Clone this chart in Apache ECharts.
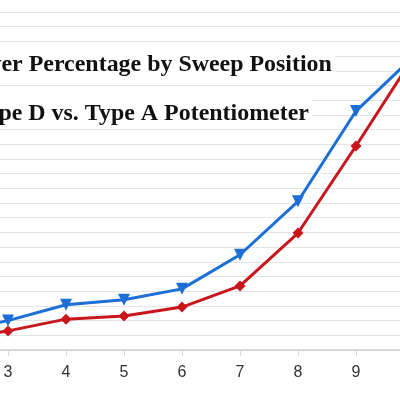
<!DOCTYPE html>
<html>
<head>
<meta charset="utf-8">
<script src="https://cdn.jsdelivr.net/npm/echarts@6/dist/echarts.min.js"></script>
<style>
  html, body { margin: 0; padding: 0; background: #fff; }
  #main { width: 400px; height: 400px; }
</style>
</head>
<body>
<div id="main"></div>
<script>
// sweep positions (2 and 10 sit outside the visible crop)
var positions = [2, 3, 4, 5, 6, 7, 8, 9, 10];
var tickLabels = [3, 4, 5, 6, 7, 8, 9];
var typeD = [6, 10, 15.4, 17.1, 20.8, 32.4, 50.6, 81.3, 100];
var typeA = [3.5, 6.5, 10.5, 11.6, 14.6, 21.8, 39.8, 69.4, 100];
var titleLines = ['Power Percentage by Sweep Position', 'Type D vs. Type A Potentiometer'];

function pairs(vals) {
    return positions.map(function (p, i) { return [p, vals[i]]; });
}

var chart = echarts.init(document.getElementById('main'));
chart.setOption({
    animation: false,
    grid: {
        left: 0,
        right: 0,
        top: 12,
        bottom: 50
    },
    xAxis: {
        type: 'value',
        // visible window of the cropped chart: 58px per position, "3" at x=8
        min: 3 - 8 / 58,
        max: 3 + 392 / 58,
        axisLine: { lineStyle: { color: '#cfcfcf', width: 1.5 } },
        axisTick: { show: true, length: 6, customValues: tickLabels, lineStyle: { color: '#d8d8d8' } },
        axisLabel: {
            customValues: tickLabels,
            margin: 15,
            fontFamily: 'Liberation Sans',
            fontSize: 16,
            color: '#333'
        },
        splitLine: { show: false }
    },
    yAxis: {
        type: 'value',
        min: 0,
        max: 115,
        interval: 5,
        axisLine: { show: false },
        axisTick: { show: false },
        axisLabel: { show: false },
        splitLine: { lineStyle: { color: '#e4e4e4', width: 1 } }
    },
    series: [
        {
            name: 'Type D',
            type: 'line',
            data: pairs(typeD),
            symbol: 'triangle',
            symbolRotate: 180,
            symbolSize: 12,
            lineStyle: { color: '#1b6fd6', width: 3 },
            itemStyle: { color: '#1b6fd6' }
        },
        {
            name: 'Type A',
            type: 'line',
            data: pairs(typeA),
            symbol: 'diamond',
            symbolSize: 11,
            lineStyle: { color: '#c9151c', width: 3 },
            itemStyle: { color: '#c9151c' }
        }
    ],
    graphic: [
        {
            type: 'text',
            x: 335,
            y: 65,
            scaleX: 1.04,
            z: 100,
            style: {
                text: titleLines[0],
                align: 'right',
                verticalAlign: 'middle',
                font: 'bold 23px "Liberation Serif"',
                fill: '#111',
                backgroundColor: '#fff',
                padding: [3, 3]
            }
        },
        {
            type: 'text',
            x: 312,
            y: 114.5,
            scaleX: 1.04,
            z: 100,
            style: {
                text: titleLines[1],
                align: 'right',
                verticalAlign: 'middle',
                font: 'bold 23px "Liberation Serif"',
                fill: '#111',
                backgroundColor: '#fff',
                padding: [3, 3]
            }
        }
    ]
});
</script>
</body>
</html>
